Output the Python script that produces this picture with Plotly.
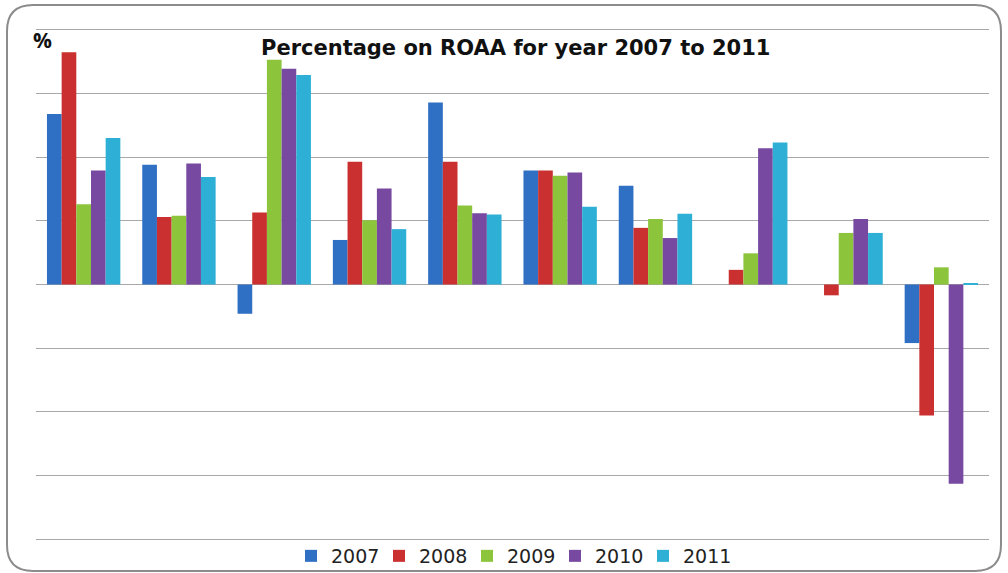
import plotly.graph_objects as go

# ROAA (%) per bank, one series per year
banks = ["B1", "B2", "B3", "B4", "B5", "B6", "B7", "B8", "B9", "B10"]
roaa_2007 = [2.68, 1.88, -0.46, 0.70, 2.86, 1.79, 1.55, 0.0, 0.0, -0.92]
roaa_2008 = [3.65, 1.06, 1.13, 1.93, 1.93, 1.79, 0.89, 0.23, -0.17, -2.06]
roaa_2009 = [1.26, 1.08, 3.53, 1.01, 1.24, 1.71, 1.03, 0.49, 0.81, 0.27]
roaa_2010 = [1.79, 1.90, 3.39, 1.51, 1.12, 1.76, 0.73, 2.14, 1.03, -3.13]
roaa_2011 = [2.30, 1.69, 3.29, 0.87, 1.10, 1.22, 1.11, 2.23, 0.81, 0.02]

years = ["2007", "2008", "2009", "2010", "2011"]
series = [roaa_2007, roaa_2008, roaa_2009, roaa_2010, roaa_2011]
colors = ["#2f6fc4", "#c9302f", "#8cc43c", "#7749a0", "#2eb0d6"]

W, H = 1008, 573
ml, mr, mt, mb = 36, 19, 28, 32
pw, ph = W - ml - mr, H - mt - mb
YPAD = 0.03  # keeps the outer gridlines just inside the plot area

fig = go.Figure()
for name, vals, col in zip(years, series, colors):
    fig.add_trace(go.Bar(
        x=banks, y=vals, name=name,
        marker=dict(color=col, line=dict(width=0)),
    ))


def px_to_paper(x, y):
    return (x - ml) / pw, (H - mb - y) / ph


def P(x, y):
    a, b = px_to_paper(x, y)
    return f"{a:.5f},{b:.5f}"


# rounded outer frame of the chart
x0, y0, x1, y1, r = 7, 5, 1001, 571, 26
path = (
    f"M {P(x0 + r, y0)} L {P(x1 - r, y0)} Q {P(x1, y0)} {P(x1, y0 + r)} "
    f"L {P(x1, y1 - r)} Q {P(x1, y1)} {P(x1 - r, y1)} "
    f"L {P(x0 + r, y1)} Q {P(x0, y1)} {P(x0, y1 - r)} "
    f"L {P(x0, y0 + r)} Q {P(x0, y0)} {P(x0 + r, y0)} Z"
)

tx, ty = px_to_paper(515, 48)
px_, py_ = px_to_paper(42, 40)
lx, ly = px_to_paper(511, 556)

fig.update_layout(
    width=W, height=H,
    margin=dict(l=ml, r=mr, t=mt, b=mb, autoexpand=False),
    paper_bgcolor="white",
    plot_bgcolor="white",
    barmode="group",
    bargap=0.23,
    bargroupgap=0,
    showlegend=True,
    legend=dict(
        orientation="h",
        x=lx, y=ly, xanchor="center", yanchor="middle",
        font=dict(family="DejaVu Sans", size=19, color="#222222"),
        itemwidth=30,
        entrywidth=43,
        traceorder="normal",
        bgcolor="rgba(0,0,0,0)",
    ),
    xaxis=dict(
        showticklabels=False, showgrid=False, zeroline=False,
        showline=False, ticks="",
    ),
    yaxis=dict(
        range=[-4 - YPAD, 4 + YPAD], dtick=1, tick0=0,
        showticklabels=False, ticks="",
        showgrid=True, gridcolor="#a8a8a8", gridwidth=1.2,
        zeroline=True, zerolinecolor="#a8a8a8", zerolinewidth=1.2,
        showline=False,
    ),
    shapes=[dict(
        type="path", xref="paper", yref="paper", path=path,
        line=dict(color="#8c8c8c", width=2), fillcolor="rgba(0,0,0,0)",
        layer="below",
    )],
    annotations=[
        dict(text="<b>Percentage on ROAA for year 2007 to 2011</b>",
             xref="paper", yref="paper", x=tx, y=ty,
             xanchor="center", yanchor="middle", showarrow=False,
             font=dict(family="DejaVu Sans", size=21, color="#111111")),
        dict(text="<b>%</b>",
             xref="paper", yref="paper", x=px_, y=py_,
             xanchor="center", yanchor="middle", showarrow=False,
             font=dict(family="Open Sans", size=21, color="#111111")),
    ],
)

fig.write_html("out.html")
